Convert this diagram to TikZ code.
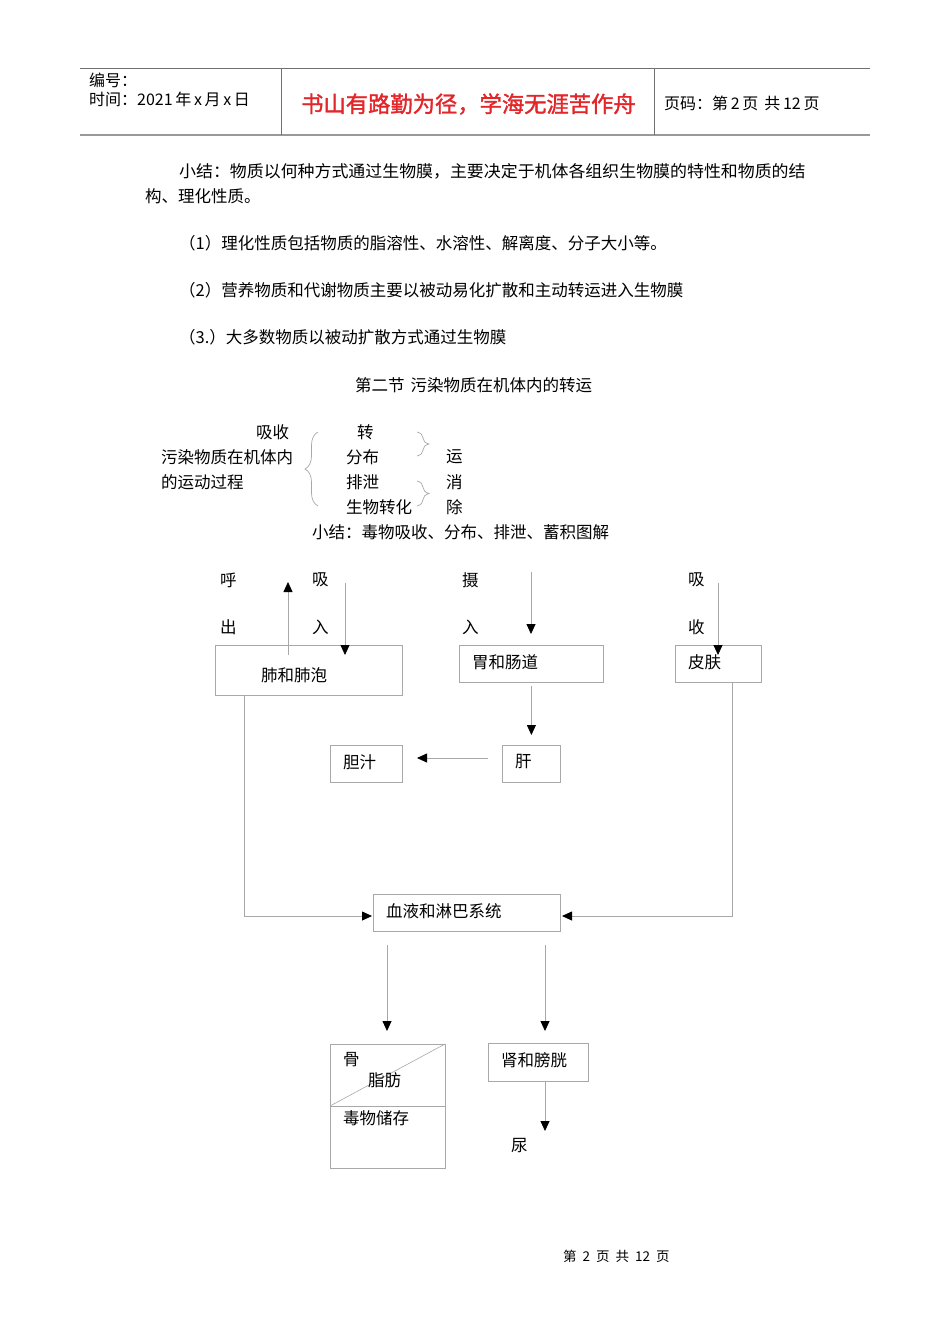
\documentclass[tikz,border=0pt]{standalone}
\usepackage{fontspec}
\setmainfont{Noto Sans CJK SC}
\newfontfamily\titlefont[FakeBold=1.5]{Noto Sans CJK SC}
\usetikzlibrary{arrows.meta,decorations.pathreplacing}
\definecolor{linegray}{HTML}{A8A8A8}
\definecolor{hdrgray}{HTML}{707070}
\definecolor{titlered}{HTML}{E3262A}
\begin{document}
\begin{tikzpicture}[x=1pt,y=-1pt,
  txt/.style={anchor=west,inner sep=0pt,font=\fontsize{16.5}{18}\selectfont},
  hdr/.style={anchor=west,inner sep=0pt,font=\fontsize{16}{18}\selectfont},
  box/.style={draw=linegray,line width=0.8pt,anchor=north west,inner sep=0pt},
  ln/.style={draw=linegray,line width=0.8pt},
  arr/.style={ln,-{Triangle[width=9pt,length=10pt,color=black]}},
  brc/.style={draw=linegray,line width=0.7pt,decorate}
]
\useasboundingbox[fill=white] (0,0) rectangle (950,1344);

% ---------- header ----------
\coordinate (htl) at (80,68);
\coordinate (htr) at (870,68);
\coordinate (hbl) at (80,135);
\coordinate (hbr) at (870,135);
\draw[hdrgray,line width=0.9pt] (htl) -- (htr);
\draw[gray!80,line width=2pt] (hbl) -- (hbr);
\coordinate (v1t) at (281,68); \coordinate (v1b) at (281,135);
\coordinate (v2t) at (654,68); \coordinate (v2b) at (654,135);
\draw[hdrgray,line width=0.8pt] (v1t) -- (v1b);
\draw[hdrgray,line width=0.8pt] (v2t) -- (v2b);
\node[hdr] (hnum) at (89,80) {编号：};
\node[hdr] (hdate) at (89,99) {时间：2021\,年\,x\,月\,x\,日};
\node[anchor=west,inner sep=0pt,text=titlered,font=\fontsize{22.3}{24}\titlefont] (htitle) at (301,104) {书山有路勤为径，学海无涯苦作舟};
\node[hdr] (hpage) at (664,103) {页码：第\,2\,页\hspace{6pt}共\,12\,页};

% ---------- body text ----------
\node[txt] (p1) at (179,171) {\scalebox{1.026}[1]{小结：物质以何种方式通过生物膜，主要决定于机体各组织生物膜的特性和物质的结}};
\node[txt] (p2) at (145,196) {构、理化性质。};
\node[txt] (p3) at (179,243) {（1）理化性质包括物质的脂溶性、水溶性、解离度、分子大小等。};
\node[txt] (p4) at (179,290) {（2）营养物质和代谢物质主要以被动易化扩散和主动转运进入生物膜};
\node[txt] (p5) at (179,337) {（3.）大多数物质以被动扩散方式通过生物膜};
\node[txt] (sec) at (355,385) {第二节\hspace{6pt}污染物质在机体内的转运};

% ---------- brace section ----------
\node[txt] (xs) at (256,432) {吸收};
\node[txt] (wr1) at (161,457) {污染物质在机体内};
\node[txt] (wr2) at (161,482) {的运动过程};
\coordinate (bL1) at (318,506); \coordinate (bL2) at (318,432);
\draw[brc,decoration={brace,amplitude=13pt}] (bL1) -- (bL2);
\node[txt] (zhuan) at (357,432) {转};
\node[txt] (fenbu) at (346,457) {分布};
\node[txt] (paixie) at (346,482) {排泄};
\node[txt] (swzh) at (346,507) {生物转化};
\coordinate (bR1) at (417,432); \coordinate (bR2) at (417,456);
\coordinate (bR3) at (417,481); \coordinate (bR4) at (417,506);
\draw[brc,decoration={brace,amplitude=12pt}] (bR1) -- (bR2);
\draw[brc,decoration={brace,amplitude=12pt}] (bR3) -- (bR4);
\node[txt] (yun) at (446,457) {运};
\node[txt] (xiao) at (446,482) {消};
\node[txt] (chu) at (446,507) {除};
\node[txt] (sum2) at (312,532) {小结：毒物吸收、分布、排泄、蓄积图解};

% ---------- flowchart labels ----------
\node[txt] (hu) at (220,580) {呼};
\node[txt] (chu2) at (220,627) {出};
\node[txt] (xi1) at (312,580) {吸};
\node[txt] (ru1) at (312,627) {入};
\node[txt] (she) at (462,580) {摄};
\node[txt] (ru2) at (462,627) {入};
\node[txt] (xi2) at (688,580) {吸};
\node[txt] (shou) at (688,627) {收};

% ---------- boxes ----------
\node[box,minimum width=187pt,minimum height=50pt] (lung) at (215,645) {};
\node[txt] (lungt) at (261,675) {肺和肺泡};
\node[box,minimum width=144pt,minimum height=37pt] (gut) at (459,645) {};
\node[txt] (gutt) at (472,662) {胃和肠道};
\node[box,minimum width=86pt,minimum height=37pt] (skin) at (675,645) {};
\node[txt] (skint) at (688,662) {皮肤};
\node[box,minimum width=72pt,minimum height=37pt] (bile) at (330,745) {};
\node[txt] (bilet) at (343,762) {胆汁};
\node[box,minimum width=58pt,minimum height=37pt] (liver) at (502,745) {};
\node[txt] (livert) at (515,762) {肝};
\node[box,minimum width=187pt,minimum height=37pt] (blood) at (373,894) {};
\node[txt] (bloodt) at (386,911) {血液和淋巴系统};
\node[box,minimum width=115pt,minimum height=124pt] (store) at (330,1044) {};
\coordinate (sdl) at (330,1106); \coordinate (sdr) at (445,1106);
\coordinate (sdtr) at (445,1044);
\draw[ln] (sdl) -- (sdr);
\draw[ln,line width=0.6pt] (sdl) -- (sdtr);
\node[txt] (gu) at (343,1060) {骨};
\node[txt] (zhifang) at (368,1080) {脂肪};
\node[txt] (dwcc) at (343,1118) {毒物储存};
\node[box,minimum width=100pt,minimum height=38pt] (kid) at (488,1043) {};
\node[txt] (kidt) at (501,1060) {肾和膀胱};
\node[txt] (urine) at (511,1146) {尿};

% ---------- connectors ----------
\coordinate (exS) at (288,655); \coordinate (exE) at (288,582);
\draw[arr] (exS) -- (exE);
\coordinate (inS) at (345,583); \coordinate (inE) at (345,655);
\draw[arr] (inS) -- (inE);
\coordinate (ingS) at (531,572); \coordinate (ingE) at (531,634);
\draw[arr] (ingS) -- (ingE);
\coordinate (skS) at (718,583); \coordinate (skE) at (718,655);
\draw[arr] (skS) -- (skE);
\draw[arr] ([yshift=-3pt]gut.south) -- ([yshift=10pt]liver.north);
\coordinate (lvS) at (488,758); \coordinate (lvE) at (417,758);
\draw[arr] (lvS) -- (lvE);
\coordinate (lgS) at (244,695); \coordinate (lgC) at (244,916); \coordinate (lgE) at (372,916);
\draw[arr] (lgS) -- (lgC) -- (lgE);
\coordinate (skbS) at (732,682); \coordinate (skbC) at (732,916); \coordinate (skbE) at (562,916);
\draw[arr] (skbS) -- (skbC) -- (skbE);
\coordinate (b1S) at (387,945); \coordinate (b1E) at (387,1031);
\draw[arr] (b1S) -- (b1E);
\coordinate (b2S) at (545,945); \coordinate (b2E) at (545,1031);
\draw[arr] (b2S) -- (b2E);
\coordinate (kS) at (545,1081); \coordinate (kE) at (545,1131);
\draw[arr] (kS) -- (kE);

% ---------- footer ----------
\node[anchor=west,inner sep=0pt,font=\fontsize{13.5}{15}\selectfont] (foot) at (563,1256) {第\hspace{6pt}2\hspace{6pt}页\hspace{6pt}共\hspace{6pt}12\hspace{6pt}页};
\end{tikzpicture}
\end{document}
